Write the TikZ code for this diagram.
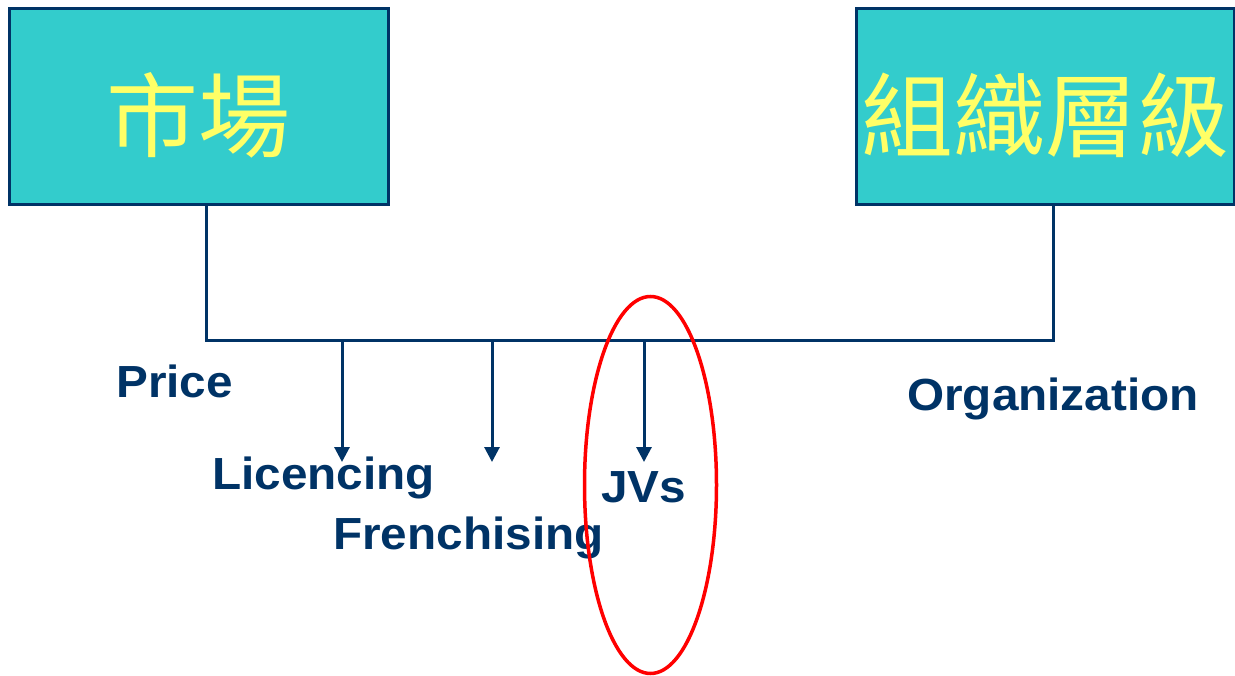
\documentclass[tikz,border=0pt]{standalone}
\usepackage{fontspec}
\setmainfont{Liberation Sans}[FakeStretch=1.06]
\newfontfamily\cjkfont{Noto Sans CJK TC}
\usetikzlibrary{arrows.meta}
\definecolor{navy}{HTML}{003366}
\definecolor{teal}{HTML}{33CCCC}
\definecolor{lemon}{HTML}{FFFF66}
\tikzset{
  topbox/.style={draw=navy, line width=3pt, fill=teal, inner sep=0pt,
    minimum height=196pt, text height=94pt, text depth=6pt,
    text=lemon, font=\cjkfont\fontsize{92}{100}\selectfont},
  label/.style={anchor=base west, inner sep=0pt, text=navy,
    font=\bfseries\fontsize{45}{50}\selectfont},
  wire/.style={draw=navy, line width=3pt},
  drop/.style={wire, -{Triangle[width=15pt,length=15pt]}}
}
\begin{document}
\begin{tikzpicture}[x=1pt, y=-1pt]
  \useasboundingbox (0,0) rectangle (1235,676);
  % the two ends of the scale
  \node[topbox, minimum width=379pt] (mkt) at (198.5,107) {市場};
  \node[topbox, minimum width=378pt] (org) at (1045,107) {組織層級};
  % the connecting bar
  \coordinate (jl) at (206,341);
  \coordinate (jr) at (1053,341);
  \draw[wire] (jl |- mkt.south) -- (jl) -- (jr) -- (jr |- org.south);
  % intermediate forms
  \coordinate (a1) at (342,341); \coordinate (t1) at (342,462);
  \coordinate (a2) at (492,341); \coordinate (t2) at (492,462);
  \coordinate (a3) at (644,341); \coordinate (t3) at (644,462);
  \draw[drop] (a1) -- (t1);
  \draw[drop] (a2) -- (t2);
  \draw[drop] (a3) -- (t3);
  % labels
  \node[label] (price) at (116,398) {Price};
  \node[label] (orgl) at (907,410) {Organization};
  \node[label] (lic) at (212,489) {Licencing};
  \node[label] (fra) at (333,549) {Frenchising};
  \node[label] (jv) at (601,502) {JVs};
  % highlight around the joint venture
  \draw[red, line width=3.5pt] (650.5,485) ellipse [x radius=66pt, y radius=188.5pt];
\end{tikzpicture}
\end{document}
